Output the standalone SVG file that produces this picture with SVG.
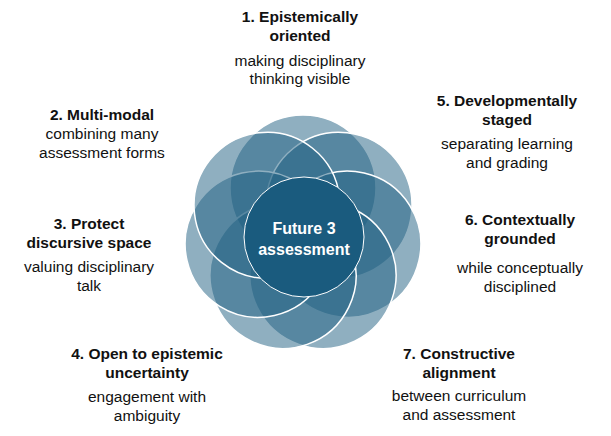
<svg xmlns="http://www.w3.org/2000/svg" width="611" height="436" viewBox="0 0 611 436">
<style>
text{font-family:"Liberation Sans",Arial,sans-serif;font-size:15.5px;fill:#111;text-anchor:middle}
.b{font-weight:bold}
.p{fill:#1f5f82;fill-opacity:0.5;stroke:#fff;stroke-width:1.5}
.c{font-weight:bold;fill:#fff;font-size:16px}
</style>
<rect width="611" height="436" fill="#fff"/>
<g id="flower" transform="translate(303,234)">
<g transform="rotate(-90)">
<circle class="p" cx="46" cy="0" r="73"/>
<circle class="p" cx="46" cy="0" r="73" transform="rotate(51.43)"/>
<circle class="p" cx="46" cy="0" r="73" transform="rotate(102.86)"/>
<circle class="p" cx="46" cy="0" r="73" transform="rotate(154.29)"/>
<circle class="p" cx="46" cy="0" r="73" transform="rotate(205.71)"/>
<circle class="p" cx="46" cy="0" r="73" transform="rotate(257.14)"/>
<circle class="p" cx="46" cy="0" r="73" transform="rotate(308.57)"/>
</g>
</g>
<g id="center">
<circle cx="304" cy="237" r="60" fill="#1a5b7e" stroke="#fff" stroke-width="1"/>
<text class="c" x="304" y="234">Future 3</text>
<text class="c" x="304" y="255">assessment</text>
</g>
<g id="n1"><text class="b" x="300" y="22">1. Epistemically</text><text class="b" x="300" y="41">oriented</text><text x="300" y="66">making disciplinary</text><text x="300" y="84">thinking visible</text></g>
<g id="n2"><text class="b" x="102" y="120">2. Multi-modal</text><text x="102" y="139">combining many</text><text x="102" y="158">assessment forms</text></g>
<g id="n3"><text class="b" x="89" y="229">3. Protect</text><text class="b" x="89" y="248">discursive space</text><text x="89" y="272">valuing disciplinary</text><text x="89" y="291">talk</text></g>
<g id="n4"><text class="b" x="147" y="359">4. Open to epistemic</text><text class="b" x="147" y="378">uncertainty</text><text x="147" y="402">engagement with</text><text x="147" y="421">ambiguity</text></g>
<g id="n5"><text class="b" x="507" y="106">5. Developmentally</text><text class="b" x="507" y="125">staged</text><text x="507" y="149">separating learning</text><text x="507" y="168">and grading</text></g>
<g id="n6"><text class="b" x="520" y="225">6. Contextually</text><text class="b" x="520" y="244">grounded</text><text x="520" y="273">while conceptually</text><text x="520" y="292">disciplined</text></g>
<g id="n7"><text class="b" x="459" y="359">7. Constructive</text><text class="b" x="459" y="378">alignment</text><text x="459" y="401">between curriculum</text><text x="459" y="420">and assessment</text></g>
<g id="connectors"/>
</svg>
